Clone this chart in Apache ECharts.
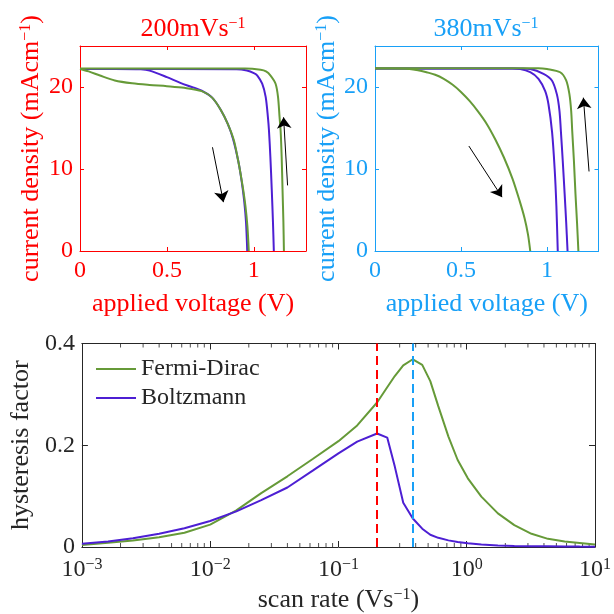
<!DOCTYPE html>
<html>
<head>
<meta charset="utf-8">
<script src="https://cdn.jsdelivr.net/npm/echarts@6/dist/echarts.min.js"></script>
<style>
  html, body { margin: 0; padding: 0; background: #fff; }
  #charts { width: 614px; height: 614px; }
</style>
</head>
<body>
<div id="charts"></div>
<script>
// scan rate (V/s) and hysteresis factor
const scanRate = [0.001, 0.0016, 0.0025, 0.004, 0.0063, 0.01, 0.016, 0.025, 0.04, 0.063, 0.1, 0.14, 0.2, 0.24, 0.275, 0.32, 0.38, 0.45, 0.52, 0.6, 0.72, 0.85, 1.02, 1.3, 1.75, 2.35, 3.2, 4.3, 5.8, 7.6, 10];
const hFermi = [0.004, 0.0085, 0.013, 0.019, 0.028, 0.044, 0.072, 0.106, 0.139, 0.173, 0.208, 0.239, 0.284, 0.314, 0.336, 0.357, 0.369, 0.358, 0.326, 0.277, 0.217, 0.171, 0.135, 0.099, 0.066, 0.043, 0.026, 0.016, 0.011, 0.008, 0.005];
const hBoltz = [0.0065, 0.011, 0.017, 0.026, 0.037, 0.051, 0.070, 0.092, 0.117, 0.150, 0.184, 0.207, 0.223, 0.215, 0.158, 0.087, 0.056, 0.036, 0.024, 0.018, 0.013, 0.010, 0.0075, 0.005, 0.003, 0.0022, 0.0017, 0.0013, 0.001, 0.0008, 0.0007];
const markedRates = [0.2, 0.38];

// J-V curves at 200 mV/s
const vFermiFwd200 = [0, 0.05, 0.115, 0.2, 0.3, 0.4, 0.5, 0.6, 0.7, 0.76, 0.81, 0.85, 0.885, 0.91, 0.923, 0.94, 0.952, 0.963, 0.971];
const jFermiFwd200 = [22.2, 21.9, 21.4, 20.8, 20.45, 20.25, 20.1, 19.9, 19.5, 18.7, 17.2, 15.5, 13.5, 11.0, 9.5, 7.3, 5.4, 3.0, 0];
const vFermiRev200 = [0, 0.95, 1.039, 1.07, 1.096, 1.125, 1.139, 1.148, 1.154, 1.16, 1.165, 1.17, 1.173];
const jFermiRev200 = [22.25, 22.25, 22.1, 21.9, 21.4, 20.4, 18.8, 16.3, 14.7, 11.5, 7.5, 3.5, 0];
const vBoltzFwd200 = [0, 0.2, 0.35, 0.4, 0.5, 0.577, 0.65, 0.7, 0.76, 0.81, 0.85, 0.88, 0.91, 0.93, 0.945, 0.955, 0.962];
const jBoltzFwd200 = [22.2, 22.2, 22.15, 22.0, 21.2, 20.5, 19.95, 19.55, 18.7, 17.2, 15.5, 13.7, 11.0, 8.5, 6.0, 3.5, 0];
const vBoltzRev200 = [0, 0.9, 0.96, 1.0, 1.02, 1.048, 1.068, 1.081, 1.087, 1.095, 1.103, 1.11, 1.115];
const jBoltzRev200 = [22.2, 22.15, 22.0, 21.7, 21.4, 20.4, 18.8, 16.3, 14.7, 11.5, 7.5, 3.5, 0];

// J-V curves at 380 mV/s
const vFermiFwd380 = [0, 0.1, 0.2, 0.25, 0.3, 0.35, 0.4, 0.45, 0.5, 0.55, 0.6, 0.65, 0.7, 0.75, 0.8, 0.84, 0.87, 0.89, 0.903];
const jFermiFwd380 = [22.25, 22.25, 22.2, 22.05, 21.8, 21.5, 21.0, 20.3, 19.4, 18.3, 17.0, 15.5, 13.6, 11.4, 8.8, 6.2, 4.0, 2.0, 0];
const vFermiRev380 = [0, 0.95, 1.0, 1.077, 1.112, 1.131, 1.141, 1.147, 1.157, 1.166, 1.175, 1.183];
const jFermiRev380 = [22.3, 22.3, 22.2, 21.8, 20.8, 19.1, 17.1, 14.7, 11.0, 7.0, 3.5, 0];
const vBoltzFwd380 = [0, 0.8, 0.845, 0.903, 0.951, 0.99, 1.009, 1.03, 1.045, 1.055, 1.063];
const jBoltzFwd380 = [22.25, 22.25, 22.2, 21.8, 21.0, 19.5, 17.9, 14.5, 10.0, 5.5, 0];
const vBoltzRev380 = [0, 0.86, 0.903, 0.98, 1.029, 1.058, 1.073, 1.081, 1.092, 1.103, 1.112, 1.12];
const jBoltzRev380 = [22.25, 22.25, 22.2, 21.6, 20.8, 19.1, 17.1, 14.7, 11.0, 7.0, 3.5, 0];

// scan direction arrows [V, J] start -> end
const arrows200 = [[[0.762, 12.65], [0.825, 5.96]], [[1.194, 8.0], [1.171, 16.3]]];
const arrows380 = [[[0.546, 12.8], [0.739, 6.57]], [[1.245, 9.7], [1.212, 18.7]]];

const GREEN = '#669a38';
const PURPLE = '#4d1fd3';
const RED = '#ff0000';
const BLUE = '#18a0f7';
const DARK = '#262626';
const FONT = 'Liberation Serif';

function richFor(color) {
  return { sup: { fontSize: 16, fontFamily: FONT, color: color, verticalAlign: 'top', lineHeight: 26 } };
}

function pairs(xs, ys) {
  return xs.map((x, i) => [x, ys[i]]);
}

// minor ticks of log axis (2..9 per decade)
const minorTicks = [];
for (let n = -3; n < 1; n++) {
  for (let k = 2; k <= 9; k++) minorTicks.push(k * Math.pow(10, n));
}

function jvAxesX(grid, color) {
  return [
    {
      type: 'value', gridIndex: grid, min: 0, max: 1.3, interval: 0.5,
      name: 'applied voltage (V)', nameLocation: 'middle', nameGap: 40,
      nameTextStyle: { color: color, fontSize: 26, fontFamily: FONT },
      axisLine: { onZero: false, lineStyle: { color: color, width: 1 } },
      axisTick: { inside: true, length: 4, lineStyle: { color: color } },
      axisLabel: { color: color, fontSize: 24, fontFamily: FONT, margin: 8, showMaxLabel: false },
      splitLine: { show: false }
    },
    {
      type: 'value', gridIndex: grid, position: 'top', min: 0, max: 1.3, interval: 0.5,
      axisLine: { onZero: false, lineStyle: { color: color, width: 1 } },
      axisTick: { inside: true, length: 4, lineStyle: { color: color } },
      axisLabel: { show: false }, splitLine: { show: false }
    }
  ];
}

function jvAxesY(grid, color, gap) {
  return [
    {
      type: 'value', gridIndex: grid, min: 0, max: 25, interval: 10,
      name: 'current density (mAcm{sup|−1})', nameLocation: 'middle', nameGap: gap,
      nameTextStyle: { color: color, fontSize: 26, fontFamily: FONT, rich: richFor(color) },
      axisLine: { onZero: false, lineStyle: { color: color, width: 1 } },
      axisTick: { inside: true, length: 4, lineStyle: { color: color } },
      axisLabel: { color: color, fontSize: 24, fontFamily: FONT, margin: 7, showMaxLabel: false },
      splitLine: { show: false }
    },
    {
      type: 'value', gridIndex: grid, position: 'right', min: 0, max: 25, interval: 10,
      axisLine: { onZero: false, lineStyle: { color: color, width: 1 } },
      axisTick: { inside: true, length: 4, lineStyle: { color: color } },
      axisLabel: { show: false }, splitLine: { show: false }
    }
  ];
}

function jvLine(xi, yi, xs, ys, color) {
  return {
    type: 'line', xAxisIndex: xi, yAxisIndex: yi, data: pairs(xs, ys),
    symbol: 'none', smooth: 0.3, lineStyle: { color: color, width: 2 }, silent: true
  };
}

function arrowSeries(xi, yi, list) {
  return {
    type: 'lines', coordinateSystem: 'cartesian2d', xAxisIndex: xi, yAxisIndex: yi,
    data: list.map(c => ({ coords: c })),
    symbol: ['none', 'arrow'], symbolSize: [0, 11],
    lineStyle: { color: '#000', width: 1, opacity: 1 }, silent: true, z: 5
  };
}

function logLabel(v) {
  const e = Math.round(Math.log10(v));
  return '10{sup|' + (e < 0 ? '−' + (-e) : e) + '}';
}

let myChart = echarts.init(document.getElementById('charts'), null, { renderer: 'canvas' });

let option = {
  backgroundColor: '#fff',
  animation: false,
  title: [
    {
      text: '200mVs{sup|−1}', left: 193, top: 16, textAlign: 'center', padding: 0,
      textStyle: { color: RED, fontSize: 26, fontWeight: 'normal', fontFamily: FONT, rich: richFor(RED) }
    },
    {
      text: '380mVs{sup|−1}', left: 486, top: 16, textAlign: 'center', padding: 0,
      textStyle: { color: BLUE, fontSize: 26, fontWeight: 'normal', fontFamily: FONT, rich: richFor(BLUE) }
    }
  ],
  legend: {
    data: ['Fermi-Dirac', 'Boltzmann'],
    orient: 'vertical', left: 96, top: 357, padding: 0,
    icon: 'rect', itemWidth: 40, itemHeight: 2, itemGap: 5,
    textStyle: { color: DARK, fontSize: 24, fontFamily: FONT, lineHeight: 24 },
    selectedMode: false
  },
  grid: [
    { left: 80, top: 46, width: 226, height: 205 },
    { left: 375, top: 46, width: 223.5, height: 205 },
    { left: 80, top: 343.5, width: 518.3, height: 204 }
  ],
  xAxis: [
    ...jvAxesX(0, RED),
    ...jvAxesX(1, BLUE),
    {
      type: 'log', gridIndex: 2, min: 0.001, max: 10, logBase: 10,
      name: 'scan rate (Vs{sup|−1})', nameLocation: 'middle', nameGap: 40,
      nameTextStyle: { color: DARK, fontSize: 26, fontFamily: FONT, rich: richFor(DARK) },
      axisLine: { onZero: false, lineStyle: { color: DARK, width: 1 } },
      axisTick: { inside: true, length: 6, lineStyle: { color: DARK } },
      axisLabel: { color: DARK, fontSize: 24, fontFamily: FONT, margin: 10, formatter: logLabel, rich: richFor(DARK) },
      splitLine: { show: false }, minorTick: { show: false }
    },
    {
      type: 'log', gridIndex: 2, position: 'top', min: 0.001, max: 10, logBase: 10,
      axisLine: { onZero: false, lineStyle: { color: DARK, width: 1 } },
      axisTick: { inside: true, length: 6, lineStyle: { color: DARK } },
      axisLabel: { show: false }, splitLine: { show: false }
    }
  ],
  yAxis: [
    ...jvAxesY(0, RED, 36),
    ...jvAxesY(1, BLUE, 35),
    {
      type: 'value', gridIndex: 2, min: 0, max: 0.4, interval: 0.2,
      name: 'hysteresis factor', nameLocation: 'middle', nameGap: 47,
      nameTextStyle: { color: DARK, fontSize: 26, fontFamily: FONT },
      axisLine: { onZero: false, lineStyle: { color: DARK, width: 1 } },
      axisTick: { inside: true, length: 6, lineStyle: { color: DARK } },
      axisLabel: { color: DARK, fontSize: 24, fontFamily: FONT, margin: 7 },
      splitLine: { show: false }
    },
    {
      type: 'value', gridIndex: 2, position: 'right', min: 0, max: 0.4, interval: 0.2,
      axisLine: { onZero: false, lineStyle: { color: DARK, width: 1 } },
      axisTick: { inside: true, length: 6, lineStyle: { color: DARK } },
      axisLabel: { show: false }, splitLine: { show: false }
    }
  ],
  series: [
    // 200 mV/s
    jvLine(0, 0, vBoltzFwd200, jBoltzFwd200, PURPLE),
    jvLine(0, 0, vBoltzRev200, jBoltzRev200, PURPLE),
    jvLine(0, 0, vFermiFwd200, jFermiFwd200, GREEN),
    jvLine(0, 0, vFermiRev200, jFermiRev200, GREEN),
    arrowSeries(0, 0, arrows200),
    // 380 mV/s
    jvLine(2, 2, vBoltzFwd380, jBoltzFwd380, PURPLE),
    jvLine(2, 2, vBoltzRev380, jBoltzRev380, PURPLE),
    jvLine(2, 2, vFermiFwd380, jFermiFwd380, GREEN),
    jvLine(2, 2, vFermiRev380, jFermiRev380, GREEN),
    arrowSeries(2, 2, arrows380),
    // hysteresis factor
    {
      name: 'Fermi-Dirac', type: 'line', xAxisIndex: 4, yAxisIndex: 4,
      data: pairs(scanRate, hFermi), symbol: 'none',
      lineStyle: { color: GREEN, width: 2 }, itemStyle: { color: GREEN },
      markLine: {
        silent: true, symbol: 'none', label: { show: false },
        data: [
          { xAxis: markedRates[0], lineStyle: { color: RED, type: [9, 5], width: 2 } },
          { xAxis: markedRates[1], lineStyle: { color: BLUE, type: [9, 5], width: 2 } }
        ]
      }
    },
    {
      name: 'Boltzmann', type: 'line', xAxisIndex: 4, yAxisIndex: 4,
      data: pairs(scanRate, hBoltz), symbol: 'none',
      lineStyle: { color: PURPLE, width: 2 }, itemStyle: { color: PURPLE }
    },
    {
      type: 'scatter', xAxisIndex: 4, yAxisIndex: 4, silent: true,
      data: minorTicks.map(v => [v, 0]), symbol: 'rect', symbolSize: [1, 4], symbolOffset: [0, -2],
      itemStyle: { color: DARK }
    },
    {
      type: 'scatter', xAxisIndex: 4, yAxisIndex: 4, silent: true,
      data: minorTicks.map(v => [v, 0.4]), symbol: 'rect', symbolSize: [1, 4], symbolOffset: [0, 2],
      itemStyle: { color: DARK }
    }
  ]
};

myChart.setOption(option);
</script>
</body>
</html>
